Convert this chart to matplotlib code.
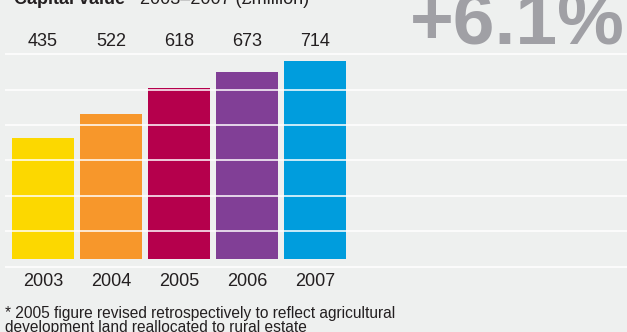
import matplotlib.pyplot as plt
from matplotlib.transforms import blended_transform_factory

# ── Data ──────────────────────────────────────────────────────
years = ["2003", "2004", "2005", "2006", "2007"]
capital_value = [435, 522, 618, 673, 714]   # £million
growth_label = "+6.1%"
footnote_lines = [
    "* 2005 figure revised retrospectively to reflect agricultural",
    "development land reallocated to rural estate",
]
# ──────────────────────────────────────────────────────────────

BG = "#eef0ef"
INK = "#231f20"
BAR_COLORS = ["#fcd800", "#f7972b", "#b5004c", "#813f96", "#009ddd"]
GRID_LEVELS = [-29, 101, 228, 357, 483, 610, 738]

plt.rcParams["font.family"] = ["Liberation Sans", "DejaVu Sans"]

W, H = 627, 332
fig = plt.figure(figsize=(W / 100, H / 100), dpi=100, facecolor=BG)
ax = fig.add_axes([0, 0, 1, 1])
ax.set_facecolor(BG)

# bars are 62 px wide on a 68 px pitch, first centre at x=43 px
pitch, first = 68.0, 43.0
ax.set_xlim((0 - first) / pitch, (W - first) / pitch)
# baseline sits at y=259 px, 0.2775 px per £m
scale, base = 0.2775, 259.0
ax.set_ylim(-(H - base) / scale, base / scale)
ax.axis("off")

xs = list(range(len(years)))
ax.bar(xs, capital_value, width=62 / pitch, color=BAR_COLORS, zorder=2)

# white rules run across the panel and over the bars
ax.hlines(GRID_LEVELS, (5 - first) / pitch, (W - first) / pitch,
          colors="white", linewidth=1.1, zorder=3)

trans = blended_transform_factory(ax.transData, ax.transAxes)
for x, v, yr in zip(xs, capital_value, years):
    ax.text(x, 1 - 41 / H, f"{v}", transform=trans, ha="center", va="center",
            fontsize=13, color=INK)
    ax.text(x, 1 - 281 / H, yr, transform=trans, ha="center", va="center",
            fontsize=13, color=INK)

# heading, partly clipped by the top edge
ax.text(14 / W, 1 - 4 / H, "Capital value", transform=ax.transAxes,
        ha="left", va="baseline", fontsize=13, fontweight="bold", color=INK)
ax.text(140 / W, 1 - 4 / H, "2003–2007 (£million)", transform=ax.transAxes,
        ha="left", va="baseline", fontsize=13, color=INK)

ax.text(625 / W, 1 - 43 / H, growth_label, transform=ax.transAxes,
        ha="right", va="baseline", fontsize=54, fontweight="bold",
        color="#a0a0a5")

# footnote, second line runs off the bottom edge
for i, line in enumerate(footnote_lines):
    ax.text(5 / W, 1 - (318 + 14 * i) / H, line, transform=ax.transAxes,
            ha="left", va="baseline", fontsize=11.2, color=INK)

fig.savefig("out.png", dpi=100, facecolor=BG)
